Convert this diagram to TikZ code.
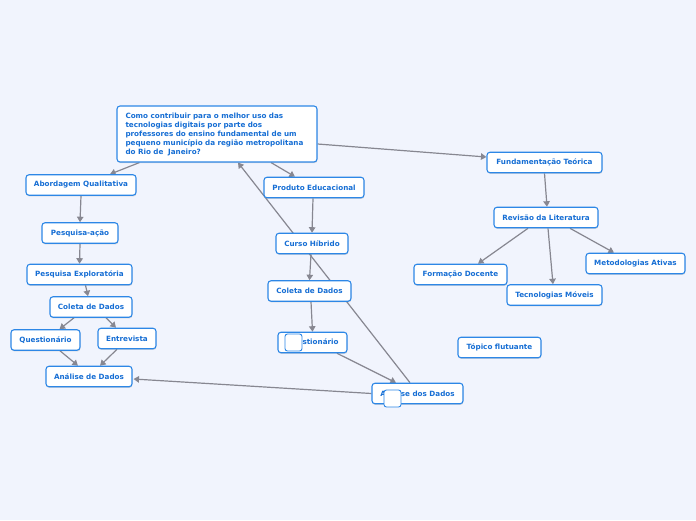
\documentclass[tikz,border=0pt]{standalone}
\usepackage{fontspec}
\setmainfont{DejaVu Sans}
\usetikzlibrary{arrows.meta,shadows}
\definecolor{bgc}{RGB}{241,244,253}
\definecolor{bordc}{RGB}{45,135,230}
\definecolor{txtc}{RGB}{22,110,212}
\definecolor{edgec}{RGB}{135,135,145}
\pgfdeclarelayer{bg}
\pgfdeclarelayer{edges}
\pgfsetlayers{bg,edges,main}
\tikzset{
  box/.style={draw=bordc, line width=1.1pt, fill=white, rounded corners=3pt,
    text=txtc, font=\fontsize{7.2}{9}\selectfont\bfseries, minimum height=20.5pt,
    inner sep=0pt, drop shadow={shadow xshift=0.4pt, shadow yshift=-1.2pt, opacity=0.25, fill=gray}},
  icon/.style={draw=bordc, line width=0.9pt, fill=white, rounded corners=2.5pt, minimum size=17pt, inner sep=0pt},
  conn/.style={draw=edgec, line width=1.2pt, -{Triangle[length=5.5pt,width=6.5pt]}},
}
\begin{document}
\begin{tikzpicture}[x=1pt,y=-1pt]
\begin{pgfonlayer}{bg}
\fill[bgc] (0,0) rectangle (696,520);
\end{pgfonlayer}
\useasboundingbox (0,0) rectangle (696,520);

\node[box, minimum width=200pt, minimum height=56pt, text width=183pt, align=left] (main) at (217,134)
  {Como contribuir para o melhor uso das\\tecnologias digitais por parte dos\\professores do ensino fundamental de um\\pequeno município da região metropolitana\\do Rio de\ \ Janeiro?};

\node[box, minimum width=110pt] (abq) at (81,185) {Abordagem Qualitativa};
\node[box, minimum width=76pt] (pa) at (80,233) {Pesquisa-ação};
\node[box, minimum width=105pt] (pe) at (79.5,274.5) {Pesquisa Exploratória};
\node[box, minimum width=82pt] (cl) at (91,307) {Coleta de Dados};
\node[box, minimum width=69pt] (ql) at (45.5,340) {Questionário};
\node[box, minimum width=58pt] (en) at (127,338.5) {Entrevista};
\node[box, minimum width=86pt] (an) at (89,376.5) {Análise de Dados};

\node[box, minimum width=100pt] (prod) at (314,187.5) {Produto Educacional};
\node[box, minimum width=72pt] (ch) at (312,243.5) {Curso Híbrido};
\node[box, minimum width=83pt] (cm) at (309.5,291) {Coleta de Dados};
\node[box, minimum width=69pt] (qm) at (312.5,342.5) {Questionário};
\node[box, minimum width=91pt] (ad) at (417.5,393.5) {Análise dos Dados};
\node[icon] (ic1) at (293.5,342.5) {};
\node[icon] (ic2) at (392.5,398.5) {};

\node[box, minimum width=115pt] (fund) at (544.5,162.5) {Fundamentação Teórica};
\node[box, minimum width=104pt] (rev) at (546,217.5) {Revisão da Literatura};
\node[box, minimum width=93pt] (fd) at (460.5,274.5) {Formação Docente};
\node[box, minimum width=95pt] (tm) at (554.5,295) {Tecnologias Móveis};
\node[box, minimum width=99pt] (ma) at (635.5,263.5) {Metodologias Ativas};
\node[box, minimum width=83pt] (tf) at (499.5,347.5) {Tópico flutuante};

\begin{pgfonlayer}{edges}
\draw[conn] ([xshift=23pt]main.south west) -- ([xshift=29pt]abq.north);
\draw[conn] ([xshift=54pt]main.south) -- ([xshift=-19pt]prod.north);
\draw[conn] ([yshift=-10pt]main.east) -- ([yshift=5.5pt]fund.west);
\draw[conn] (abq.south) -- (pa.north);
\draw[conn] (pa.south) -- (pe.north);
\draw[conn] ([xshift=6pt]pe.south) -- ([xshift=-3pt]cl.north);
\draw[conn] ([xshift=-17pt]cl.south) -- ([xshift=14pt]ql.north);
\draw[conn] ([xshift=15pt]cl.south) -- ([xshift=-11pt]en.north);
\draw[conn] ([xshift=14.5pt]ql.south) -- ([xshift=-11pt]an.north);
\draw[conn] ([xshift=-10pt]en.south) -- ([xshift=11pt]an.north);
\draw[conn] (ad.west) -- ([yshift=-2.5pt,xshift=1pt]an.east);
\draw[conn] ([xshift=-1pt]prod.south) -- (ch.north);
\draw[conn] ([xshift=-1pt]ch.south) -- (cm.north);
\draw[conn] ([xshift=1.5pt]cm.south) -- (qm.north);
\draw[conn] ([xshift=24.5pt]qm.south) -- ([xshift=-21.5pt]ad.north);
\draw[conn] ([xshift=-7.5pt]ad.north) -- ([xshift=21pt]main.south);
\draw[conn] (fund.south) -- ([xshift=1pt]rev.north);
\draw[conn] ([xshift=-18pt]rev.south) -- ([xshift=17.5pt]fd.north);
\draw[conn] ([xshift=2pt]rev.south) -- ([xshift=-1.5pt]tm.north);
\draw[conn] ([xshift=24pt]rev.south) -- ([xshift=-21.5pt]ma.north);
\end{pgfonlayer}
\end{tikzpicture}
\end{document}
